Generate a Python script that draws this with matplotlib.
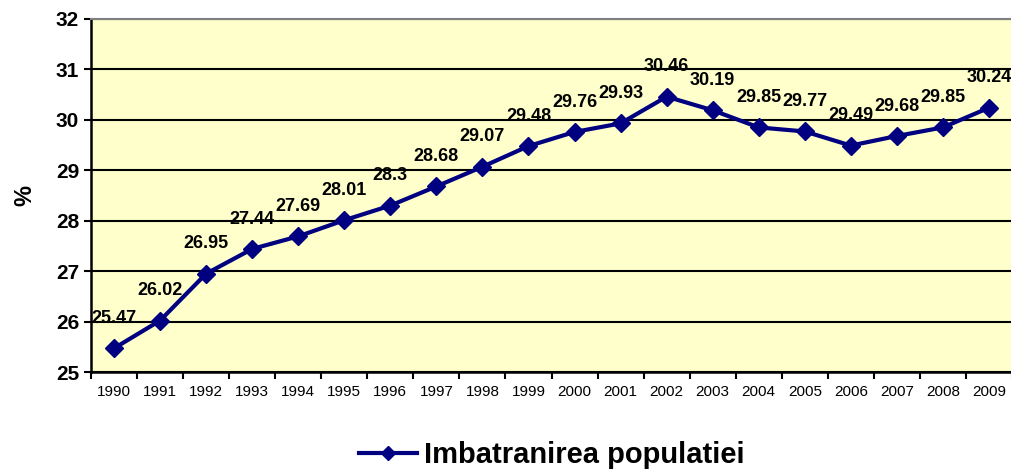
import matplotlib.pyplot as plt
import numpy as np

plt.rcParams['font.family'] = ['Liberation Sans', 'DejaVu Sans']

years = ['1990', '1991', '1992', '1993', '1994', '1995', '1996', '1997', '1998', '1999',
         '2000', '2001', '2002', '2003', '2004', '2005', '2006', '2007', '2008', '2009']
values = [25.47, 26.02, 26.95, 27.44, 27.69, 28.01, 28.3, 28.68, 29.07, 29.48,
          29.76, 29.93, 30.46, 30.19, 29.85, 29.77, 29.49, 29.68, 29.85, 30.24]
series_name = 'Imbatranirea populatiei'

fig = plt.figure(figsize=(10.11, 4.70), dpi=100)
ax = fig.add_axes([91 / 1011, 98 / 470, 921 / 1011, 353 / 470])
ax.set_facecolor('#FFFFCC')

x = np.arange(len(years))
line, = ax.plot(x, values, color='#000080', linewidth=3, marker='D', markersize=9.5,
                label=series_name, zorder=3, clip_on=False)

for xi, v in zip(x, values):
    ax.annotate(f'{v:g}', (xi, v), xytext=(0, 21.5), textcoords='offset points',
                ha='center', va='center', fontsize=13, fontweight='bold', zorder=4)

ax.set_xlim(-0.5, len(years) - 0.5)
ax.set_ylim(25, 32)
ax.set_yticks(range(25, 33))
ax.tick_params(axis='y', labelsize=15, length=5, width=1.5, direction='out')
for t in ax.get_yticklabels():
    t.set_fontweight('bold')
ax.yaxis.grid(True, color='black', linewidth=1.5)
ax.set_axisbelow(True)

ax.set_xticks(x)
ax.set_xticklabels(years, fontsize=11)
ax.set_xticks(np.arange(-0.5, len(years)), minor=True)
ax.tick_params(axis='x', which='major', length=0, pad=9)
ax.tick_params(axis='x', which='minor', length=5, width=1.5, direction='out')

ax.spines['left'].set_linewidth(1.8)
ax.spines['bottom'].set_linewidth(1.8)
ax.spines['top'].set_color('gray')
ax.spines['top'].set_linewidth(1.5)
ax.spines['right'].set_visible(False)

ax.set_ylabel('%', fontsize=17, fontweight='bold', labelpad=14)

fig.legend(handles=[line], loc='center', bbox_to_anchor=(552 / 1011, 1 - 455 / 470),
           frameon=False, prop={'size': 21, 'weight': 'bold'}, handlelength=2.0,
           handletextpad=0.25, markerscale=0.8)

fig.savefig('out.png', dpi=100)
